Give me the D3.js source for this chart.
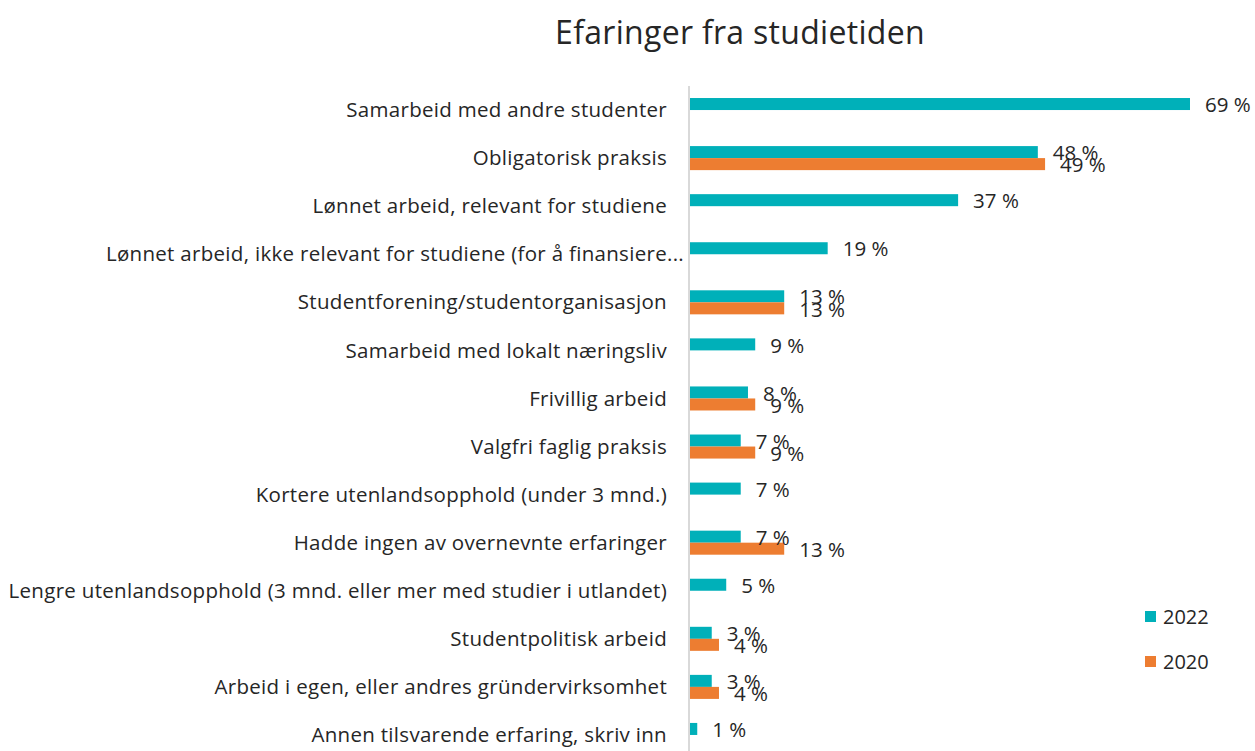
<!DOCTYPE html>
<html>
<head>
<meta charset="utf-8">
<script src="https://cdn.jsdelivr.net/npm/d3@7"></script>
<style>
  body { margin: 0; background: #fff; }
  text { font-family: "Open Sans", sans-serif; fill: #262626; }
</style>
</head>
<body>
<script>
const categories = [
  "Samarbeid med andre studenter",
  "Obligatorisk praksis",
  "Lønnet arbeid, relevant for studiene",
  "Lønnet arbeid, ikke relevant for studiene (for å finansiere...",
  "Studentforening/studentorganisasjon",
  "Samarbeid med lokalt næringsliv",
  "Frivillig arbeid",
  "Valgfri faglig praksis",
  "Kortere utenlandsopphold (under 3 mnd.)",
  "Hadde ingen av overnevnte erfaringer",
  "Lengre utenlandsopphold (3 mnd. eller mer med studier i utlandet)",
  "Studentpolitisk arbeid",
  "Arbeid i egen, eller andres gründervirksomhet",
  "Annen tilsvarende erfaring, skriv inn"
];
const series = ["2022", "2020"];
const values2022 = [69, 48, 37, 19, 13, 9, 8, 7, 7, 7, 5, 3, 3, 1];
const values2020 = [null, 49, null, null, 13, null, 9, 9, null, 13, null, 4, 4, null];
const colors = ["#00B0B9", "#ED7D31"];
const title = "Efaringer fra studietiden";

const width = 1255, height = 751;
const svg = d3.select("body").append("svg")
  .attr("width", width).attr("height", height);

const x = d3.scaleLinear().domain([0, 69]).range([690, 1190]);
const y = d3.scaleBand().domain(categories).range([86, 759]).padding(0);
const ySub = d3.scaleBand().domain(series).range([0, y.bandwidth()])
  .paddingInner(0).paddingOuter(1);
const color = d3.scaleOrdinal().domain(series).range(colors);

// title
svg.append("text")
  .attr("x", 740).attr("y", 44)
  .attr("text-anchor", "middle")
  .style("font-size", "32px")
  .style("letter-spacing", "0.3px")
  .text(title);

// axis line
svg.append("line")
  .attr("x1", 689).attr("x2", 689)
  .attr("y1", 86).attr("y2", height)
  .style("stroke", "#d9d9d9").style("stroke-width", "2px");

// category labels
svg.selectAll("text.cat")
  .data(categories)
  .enter()
  .append("text")
  .attr("class", "cat")
  .attr("x", d => d.endsWith("...") ? 684 : 667)
  .attr("y", d => y(d) + y.bandwidth() / 2)
  .attr("dy", "0.35em")
  .attr("text-anchor", "end")
  .style("font-size", "20.5px")
  .style("letter-spacing", "0.3px")
  .text(d => d);

const rows = categories.map((c, i) => ({
  cat: c,
  vals: [
    { key: "2022", v: values2022[i] },
    { key: "2020", v: values2020[i] }
  ].filter(d => d.v != null)
}));

const g = svg.selectAll("g.row")
  .data(rows)
  .enter()
  .append("g")
  .attr("class", "row")
  .attr("transform", d => "translate(0," + y(d.cat) + ")");

g.selectAll("rect")
  .data(d => d.vals)
  .enter()
  .append("rect")
  .attr("x", x(0))
  .attr("y", d => ySub(d.key))
  .attr("width", d => x(d.v) - x(0))
  .attr("height", ySub.bandwidth())
  .style("fill", d => color(d.key));

g.selectAll("text.val")
  .data(d => d.vals)
  .enter()
  .append("text")
  .attr("class", "val")
  .attr("x", d => x(d.v) + 15)
  .attr("y", d => ySub(d.key) + ySub.bandwidth() / 2 + 1)
  .attr("dy", "0.35em")
  .style("font-size", "20.5px")
  .text(d => d.v + " %");

// legend
const leg = svg.selectAll("g.leg")
  .data(series)
  .enter()
  .append("g")
  .attr("class", "leg")
  .attr("transform", (d, i) => "translate(1145," + (611 + i * 45) + ")");

leg.append("rect")
  .attr("width", 11).attr("height", 11)
  .style("fill", d => color(d));

leg.append("text")
  .attr("x", 18).attr("y", 6)
  .attr("dy", "0.35em")
  .style("font-size", "20px")
  .text(d => d);
</script>
</body>
</html>
